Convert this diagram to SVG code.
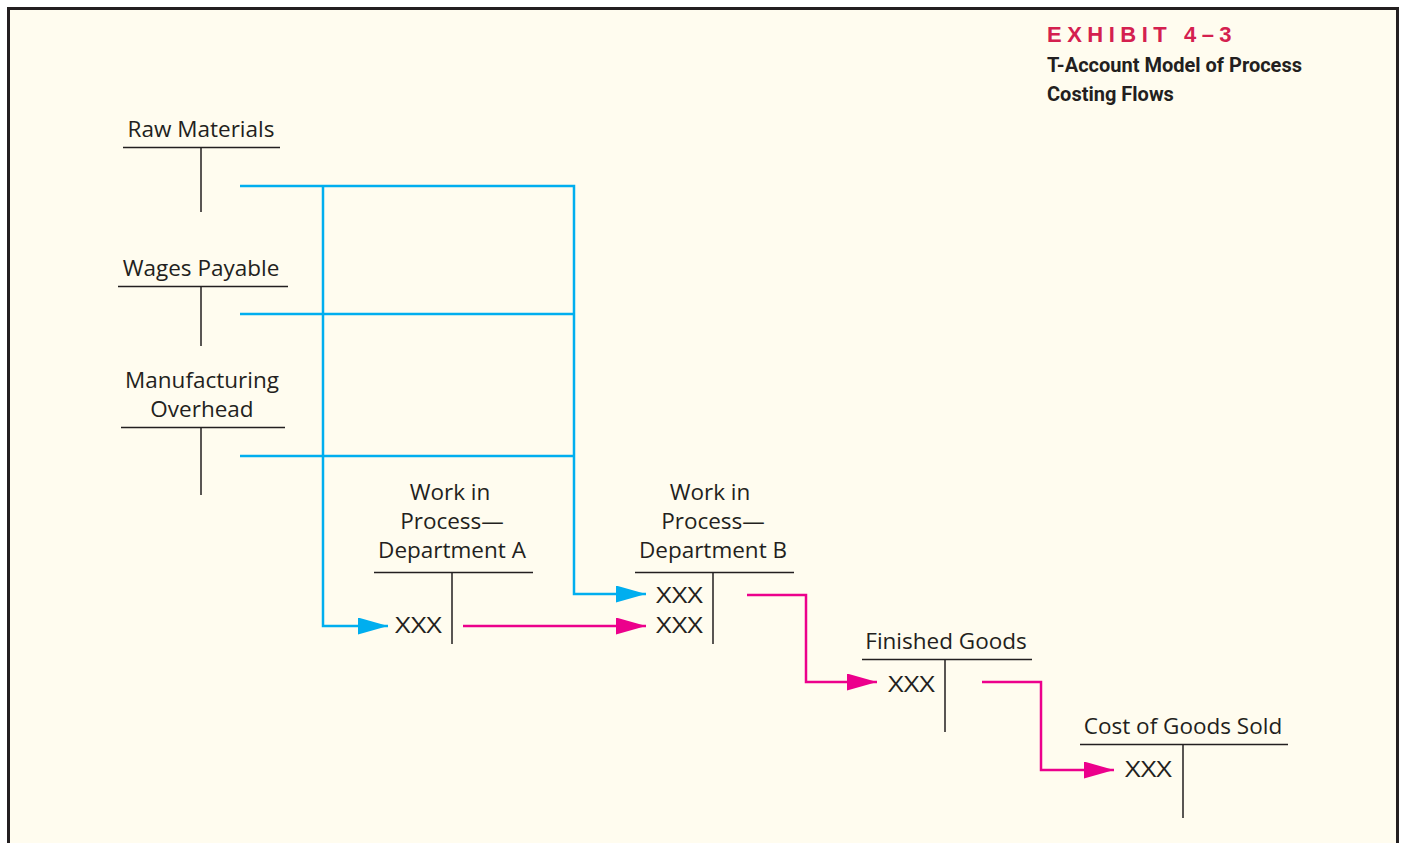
<svg xmlns="http://www.w3.org/2000/svg" width="1403" height="843" viewBox="0 0 1403 843">
<defs>
<style>
.lbl{font-family:"Open Sans","Liberation Sans",sans-serif;font-size:22.5px;fill:#231f20;text-anchor:middle}
.xxx{font-family:"Open Sans","Liberation Sans",sans-serif;font-size:22.5px;fill:#231f20}
.t{stroke:#231f20;stroke-width:1.5;fill:none}
.blue{stroke:#00aeef;stroke-width:2.5;fill:none}
.mag{stroke:#ec008c;stroke-width:2.5;fill:none}
.ttl{font-family:"Liberation Sans",sans-serif;font-weight:bold;font-size:22px;fill:#d4204f;letter-spacing:5.5px}
.sub{font-family:"Roboto","Liberation Sans",sans-serif;font-weight:bold;font-size:20px;fill:#231f20}
</style>
<marker id="ab" viewBox="0 0 30 17" refX="30" refY="8.5" markerWidth="30" markerHeight="17" markerUnits="userSpaceOnUse" orient="auto"><path d="M0,0 L30,8.5 L0,17 Z" fill="#00aeef"/></marker>
<marker id="am" viewBox="0 0 30 17" refX="30" refY="8.5" markerWidth="30" markerHeight="17" markerUnits="userSpaceOnUse" orient="auto"><path d="M0,0 L30,8.5 L0,17 Z" fill="#ec008c"/></marker>
</defs>
<rect x="0" y="0" width="1403" height="843" fill="#ffffff"/>
<rect x="8.5" y="8.5" width="1389" height="840" fill="#fffcef" stroke="#231f20" stroke-width="3"/>
<g id="title">
<text class="ttl" x="1047" y="42">EXHIBIT 4–3</text>
<text class="sub" x="1047" y="72">T-Account Model of Process</text>
<text class="sub" x="1047" y="101">Costing Flows</text>
</g>
<g id="connectors">
<path class="blue" d="M240,186 H574 V594 H646" marker-end="url(#ab)"/>
<path class="blue" d="M323,186 V626 H388" marker-end="url(#ab)"/>
<path class="blue" d="M240,314 H574"/>
<path class="blue" d="M240,456 H574"/>
<path class="mag" d="M463,626 H646" marker-end="url(#am)"/>
<path class="mag" d="M747,595 H806 V682 H877" marker-end="url(#am)"/>
<path class="mag" d="M982,682 H1041 V770 H1114" marker-end="url(#am)"/>
</g>
<g id="raw-materials">
<text class="lbl" x="201" y="137">Raw Materials</text>
<path class="t" d="M123,147.5 H280 M201,147.5 V212"/>
</g>
<g id="wages-payable">
<text class="lbl" x="201" y="276">Wages Payable</text>
<path class="t" d="M118,286.5 H288 M201,286.5 V346"/>
</g>
<g id="manufacturing-overhead">
<text class="lbl" x="202" y="388">Manufacturing</text>
<text class="lbl" x="202" y="417">Overhead</text>
<path class="t" d="M121,427.5 H285 M201,427.5 V495"/>
</g>
<g id="wip-a">
<text class="lbl" x="450" y="500">Work in</text>
<text class="lbl" x="452" y="529">Process—</text>
<text class="lbl" x="452" y="558">Department A</text>
<path class="t" d="M374,572.5 H533 M452,572.5 V644"/>
<text class="xxx" x="395" y="633" textLength="47" lengthAdjust="spacingAndGlyphs">XXX</text>
</g>
<g id="wip-b">
<text class="lbl" x="710" y="500">Work in</text>
<text class="lbl" x="713" y="529">Process—</text>
<text class="lbl" x="713" y="558">Department B</text>
<path class="t" d="M635,572.5 H794 M713,572.5 V644"/>
<text class="xxx" x="656" y="603" textLength="47" lengthAdjust="spacingAndGlyphs">XXX</text>
<text class="xxx" x="656" y="633" textLength="47" lengthAdjust="spacingAndGlyphs">XXX</text>
</g>
<g id="finished-goods">
<text class="lbl" x="946" y="649">Finished Goods</text>
<path class="t" d="M862,659.5 H1032 M945,659.5 V732"/>
<text class="xxx" x="888" y="692" textLength="47" lengthAdjust="spacingAndGlyphs">XXX</text>
</g>
<g id="cogs">
<text class="lbl" x="1183" y="734">Cost of Goods Sold</text>
<path class="t" d="M1080,744.5 H1288 M1183,744.5 V818"/>
<text class="xxx" x="1125" y="777" textLength="47" lengthAdjust="spacingAndGlyphs">XXX</text>
</g>
</svg>
